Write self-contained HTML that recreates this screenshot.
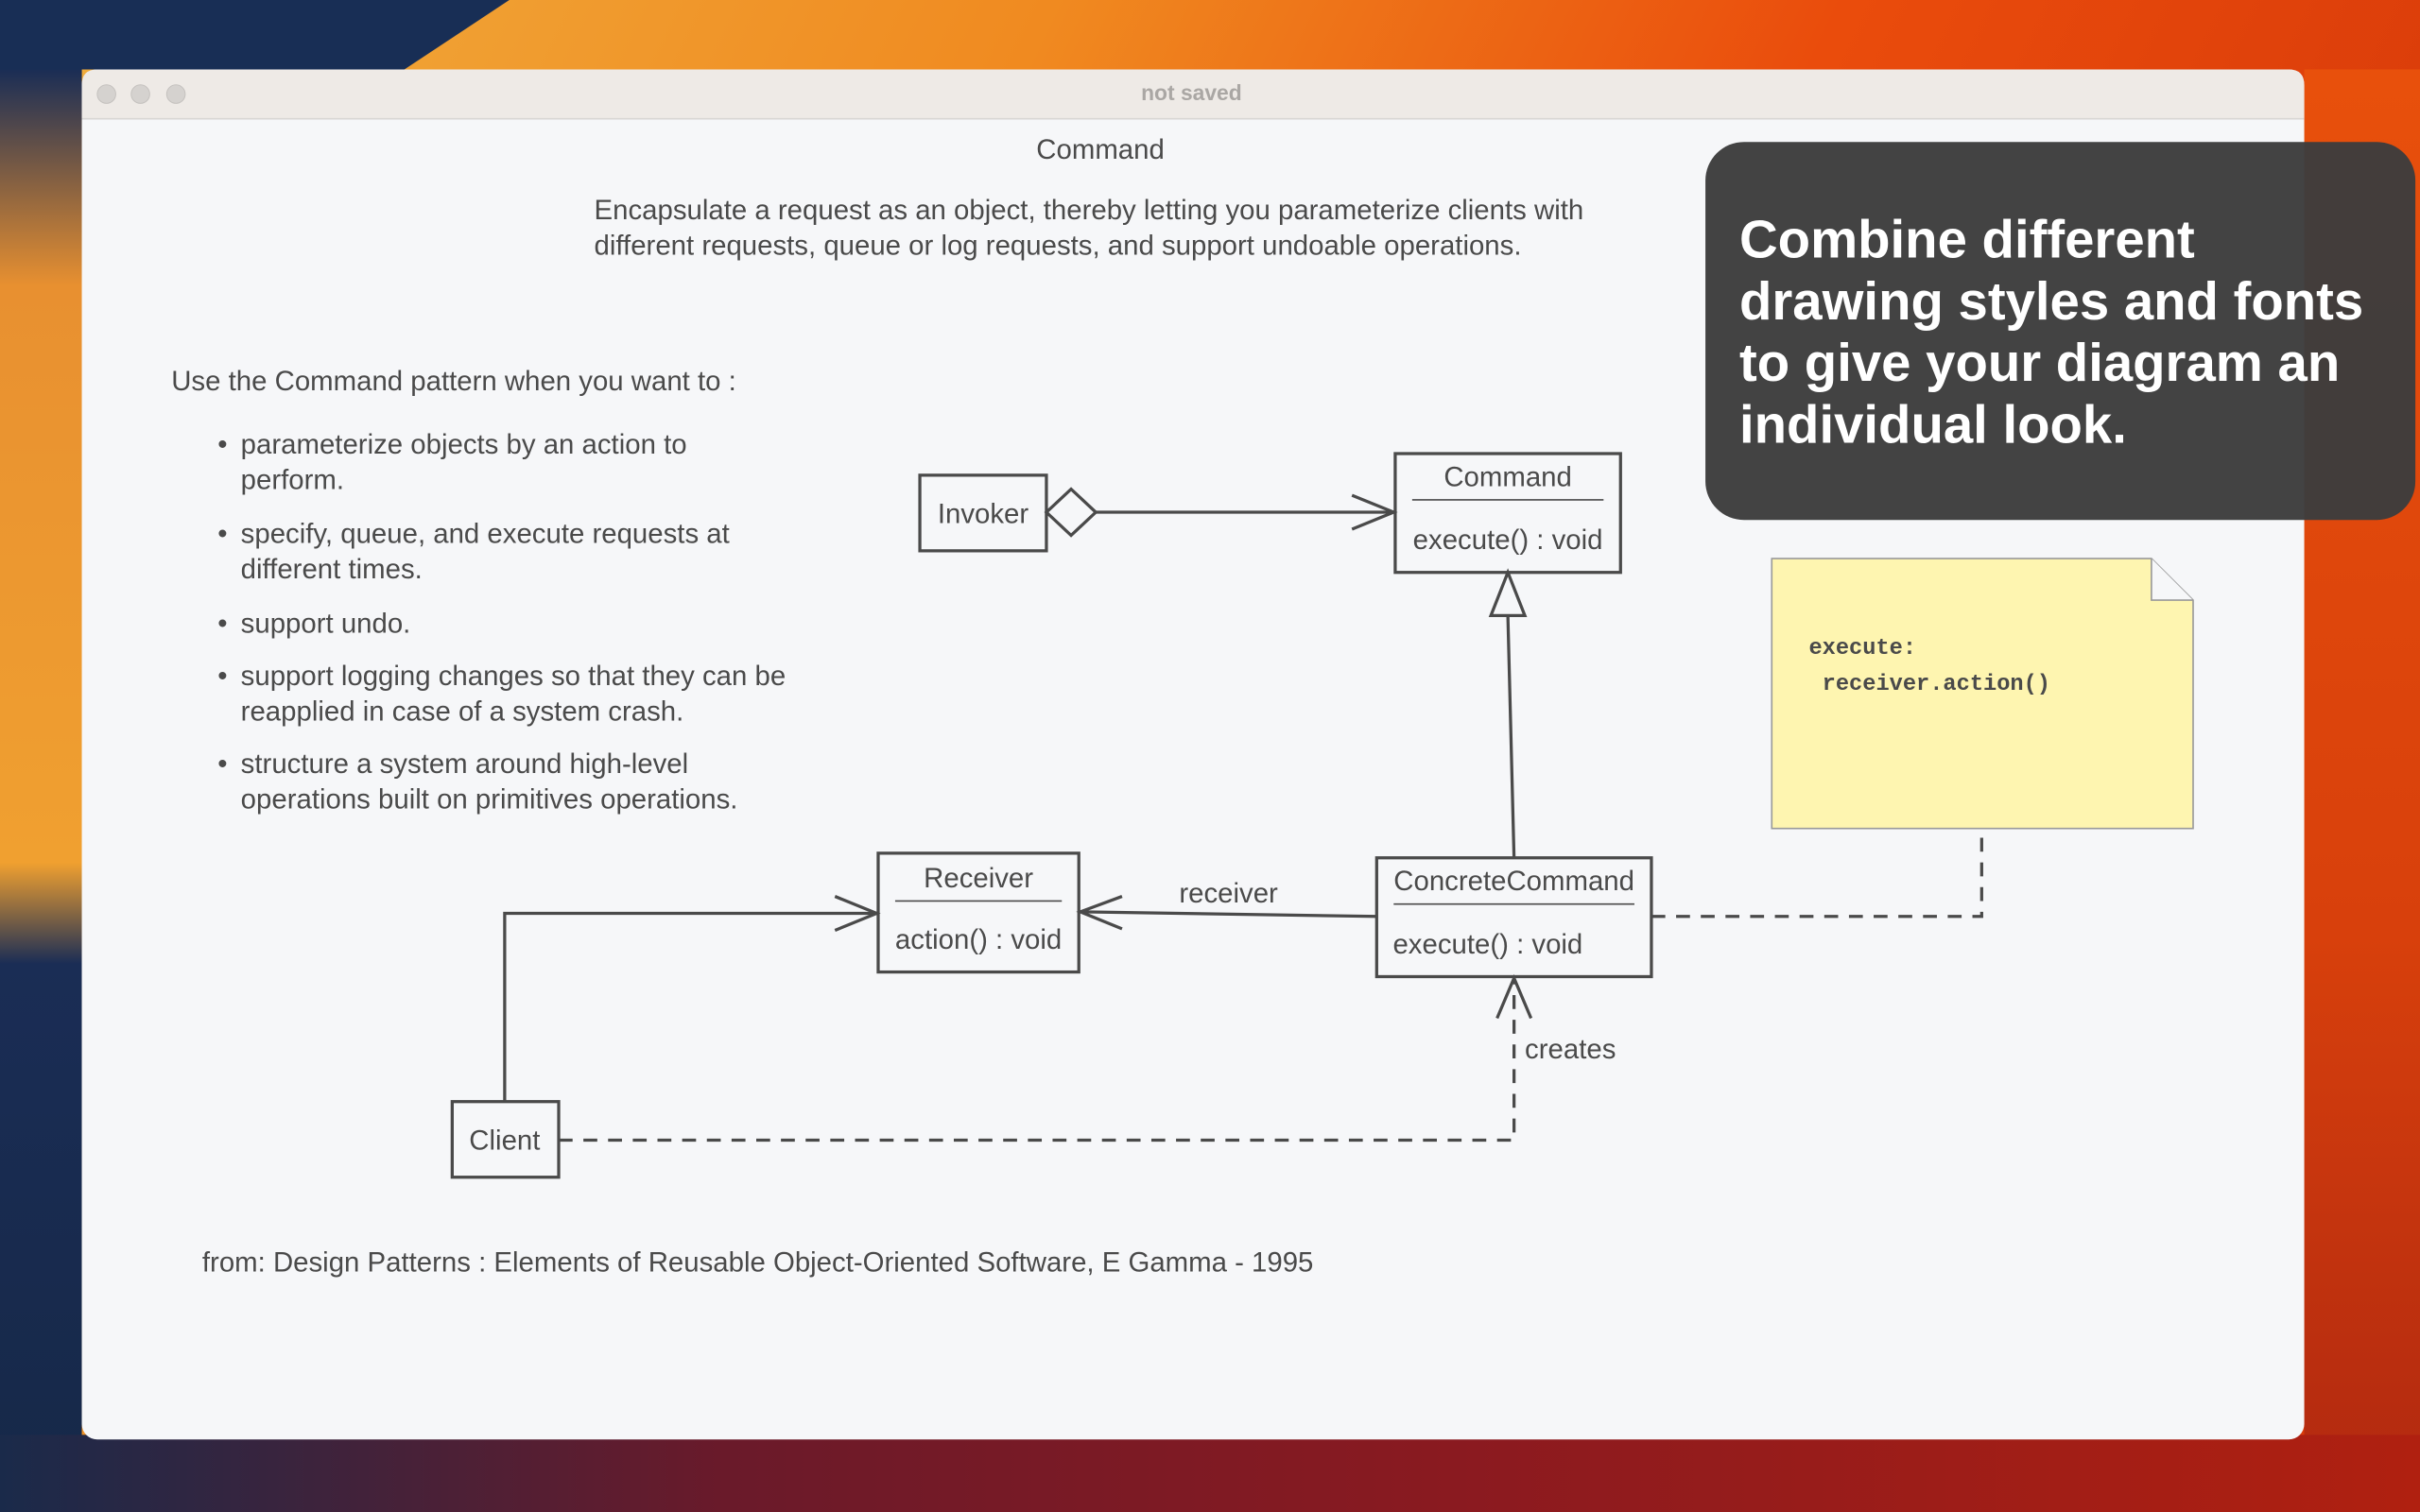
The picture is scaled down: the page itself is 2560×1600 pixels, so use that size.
<!DOCTYPE html>
<html><head><meta charset="utf-8"><style>
html,body{margin:0;padding:0;width:2560px;height:1600px;overflow:hidden}
svg{display:block}
text{font-family:"Liberation Sans",sans-serif;fill:#4a4a4a}
</style></head><body>
<svg width="2560" height="1600" viewBox="0 0 1568 980" xmlns="http://www.w3.org/2000/svg">
<defs>
<linearGradient id="bg" x1="0" y1="0" x2="1" y2="0.3">
<stop offset="0" stop-color="#f0b040"/><stop offset="0.4" stop-color="#f08a20"/><stop offset="0.7" stop-color="#ea4c0c"/><stop offset="1" stop-color="#d83a0a"/></linearGradient>
<linearGradient id="bot" x1="0" y1="0" x2="1" y2="0">
<stop offset="0" stop-color="#1a2a4a"/><stop offset="0.3" stop-color="#6a1a2a"/><stop offset="0.6" stop-color="#8a1a20"/><stop offset="1" stop-color="#b02010"/></linearGradient>
<linearGradient id="left" x1="0" y1="0" x2="0" y2="1">
<stop offset="0" stop-color="#1a2d55"/><stop offset="0.15" stop-color="#e89030"/><stop offset="0.55" stop-color="#f0a030"/><stop offset="0.62" stop-color="#1a2d55"/><stop offset="1" stop-color="#162848"/></linearGradient>
<linearGradient id="right" x1="0" y1="0" x2="0" y2="1">
<stop offset="0" stop-color="#e8500c"/><stop offset="0.6" stop-color="#d8400c"/><stop offset="1" stop-color="#b02810"/></linearGradient>
</defs>
<rect width="1568" height="980" fill="url(#bg)"/>
<path d="M0 0 H330 L262 45 H53 V100 H0 Z" fill="#182e55"/>
<rect x="0" y="45" width="53" height="935" fill="url(#left)"/>
<rect x="1493" y="45" width="75" height="935" fill="url(#right)"/>
<rect x="0" y="930" width="1568" height="50" fill="url(#bot)"/>
<rect x="53" y="45" width="1440" height="888" rx="10" fill="#f6f7f9"/>
<path d="M53 77 V55 Q53 45 63 45 H1483 Q1493 45 1493 55 V77Z" fill="#eeeae6"/>
<line x1="53" y1="77" x2="1493" y2="77" stroke="#d8d6d4"/>
<circle cx="69" cy="61" r="6" fill="#d5d2cf" stroke="#c4c1be" stroke-width="0.6"/>
<circle cx="91" cy="61" r="6" fill="#d5d2cf" stroke="#c4c1be" stroke-width="0.6"/>
<circle cx="114" cy="61" r="6" fill="#d5d2cf" stroke="#c4c1be" stroke-width="0.6"/>
<text x="772" y="65" font-size="14" font-weight="bold" text-anchor="middle" style="fill:#aaa7a4">not saved</text>

<g font-size="18">
<text x="713" y="103" text-anchor="middle">Command</text>
<text x="385" y="142">Encapsulate a request as an object, thereby letting you parameterize clients with</text>
<text x="385" y="165">different requests, queue or log requests, and support undoable operations.</text>
<text x="111" y="253">Use the Command pattern when you want to :</text>
<g>
<text x="141" y="294">•</text><text x="156" y="294">parameterize objects by an action to</text><text x="156" y="317">perform.</text>
<text x="141" y="352">•</text><text x="156" y="352">specify, queue, and execute requests at</text><text x="156" y="375">different times.</text>
<text x="141" y="410">•</text><text x="156" y="410">support undo.</text>
<text x="141" y="444">•</text><text x="156" y="444">support logging changes so that they can be</text><text x="156" y="467">reapplied in case of a system crash.</text>
<text x="141" y="501">•</text><text x="156" y="501">structure a system around high-level</text><text x="156" y="524">operations built on primitives operations.</text>
</g>
<text x="131" y="824">from: Design Patterns : Elements of Reusable Object-Oriented Software, E Gamma - 1995</text>
</g>

<g stroke="#4a4a4a" stroke-width="2" fill="none">
<rect x="596" y="308" width="82" height="49" fill="#f6f7f9"/>
<path d="M678 332 L694 317 L710 332 L694 347Z" fill="#f6f7f9"/>
<line x1="710" y1="332" x2="903" y2="332"/>
<path d="M876 321 L903 332 L876 343"/>
<rect x="904" y="294" width="146" height="77"/>
<line x1="915" y1="324" x2="1039" y2="324" stroke-width="1"/>
<path d="M977 371 L966 399 L988 399Z" fill="#f6f7f9"/>
<line x1="977" y1="399" x2="981" y2="556"/>
<rect x="892" y="556" width="178" height="77"/>
<line x1="903" y1="586" x2="1059" y2="586" stroke-width="1"/>
<rect x="569" y="553" width="130" height="77"/>
<line x1="580" y1="584" x2="688" y2="584" stroke-width="1"/>
<line x1="892" y1="594" x2="700" y2="591"/>
<path d="M727 581 L700 591 L727 602"/>
<rect x="293" y="714" width="69" height="49"/>
<path d="M327 714 V592 H568"/>
<path d="M541 581 L568 592 L541 603"/>
<path d="M362 739 H981 V634" stroke-dasharray="9 7"/>
<path d="M970 660 L981 634 L992 660"/>
<path d="M1070 594 H1284 V542" stroke-dasharray="9 7"/>
</g>
<g font-size="18">
<text x="637" y="339" text-anchor="middle">Invoker</text>
<text x="977" y="315" text-anchor="middle">Command</text>
<text x="977" y="356" text-anchor="middle">execute() : void</text>
<text x="981" y="577" text-anchor="middle">ConcreteCommand</text>
<text x="964" y="618" text-anchor="middle">execute() : void</text>
<text x="634" y="575" text-anchor="middle">Receiver</text>
<text x="634" y="615" text-anchor="middle">action() : void</text>
<text x="796" y="585" text-anchor="middle">receiver</text>
<text x="327" y="745" text-anchor="middle">Client</text>
<text x="988" y="686">creates</text>
</g>
<path d="M1148 362 H1394 L1421 389 V537 H1148Z" fill="#fef5b0" stroke="#999" stroke-width="1"/>
<path d="M1394 362 V389 H1421" fill="#f6f7f9" stroke="#999" stroke-width="1"/>
<text x="1172" y="424" font-size="14.5" font-weight="bold" style="font-family:'Liberation Mono',monospace">execute:</text>
<text x="1172" y="447" font-size="14.5" font-weight="bold" style="font-family:'Liberation Mono',monospace" xml:space="preserve"> receiver.action()</text>

<rect x="1105" y="92" width="460" height="245" rx="25" fill="#3d3d3d" fill-opacity="0.97"/>
<g font-size="34.5" font-weight="bold">
<text x="1127" y="167" style="fill:#fff">Combine different</text>
<text x="1127" y="207" style="fill:#fff">drawing styles and fonts</text>
<text x="1127" y="247" style="fill:#fff">to give your diagram an</text>
<text x="1127" y="287" style="fill:#fff">individual look.</text>
</g>
</svg>
</body></html>
